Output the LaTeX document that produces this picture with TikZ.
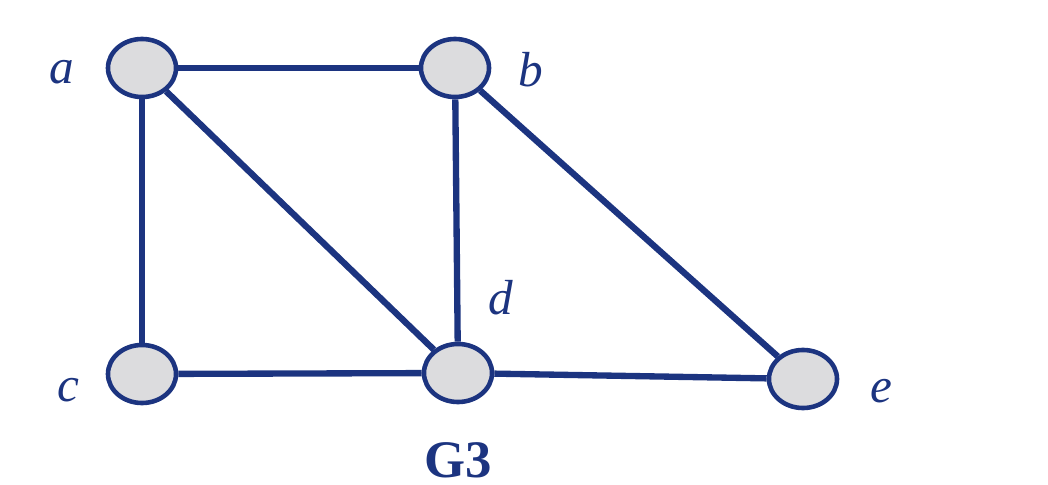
\documentclass[tikz,border=0pt]{standalone}
\usepackage{fontspec}
\setmainfont{Liberation Serif}
\definecolor{edgeblue}{RGB}{28,52,128}
\definecolor{vgray}{RGB}{220,220,222}
\tikzset{
  vertex/.style={ellipse, draw=edgeblue, fill=vgray, line width=1.3pt, minimum width=0.68cm, minimum height=0.58cm, inner sep=0pt},
  edge/.style={draw=edgeblue, line width=1.8pt},
  vlabel/.style={font=\fontsize{14}{16}\selectfont\itshape, text=edgeblue, inner sep=0pt}
}
\usetikzlibrary{shapes.geometric}
\begin{document}
\begin{tikzpicture}[x=0.01cm, y=-0.01cm]
  \useasboundingbox (0,0) rectangle (1048,485);
  \node[vertex] (a) at (142,68) {};
  \node[vertex] (b) at (455,68) {};
  \node[vertex] (c) at (142,374) {};
  \node[vertex] (d) at (458,373) {};
  \node[vertex] (e) at (803,379) {};
  \draw[edge] (a) -- (b);
  \draw[edge] (a) -- (c);
  \draw[edge] (a) -- (d);
  \draw[edge] (b) -- (d);
  \draw[edge] (b) -- (e);
  \draw[edge] (c) -- (d);
  \draw[edge] (d) -- (e);
  \node[vlabel] (la) at (62,72) {a};
  \node[vlabel] (lb) at (531,70) {b};
  \node[vlabel] (lc) at (68,390) {c};
  \node[vlabel] (ld) at (501,298) {d};
  \node[vlabel] (le) at (881,391) {e};
  \node[font=\fontsize{15}{17}\selectfont\bfseries, text=edgeblue, inner sep=0pt] (title) at (458,460) {G3};
\end{tikzpicture}
\end{document}
